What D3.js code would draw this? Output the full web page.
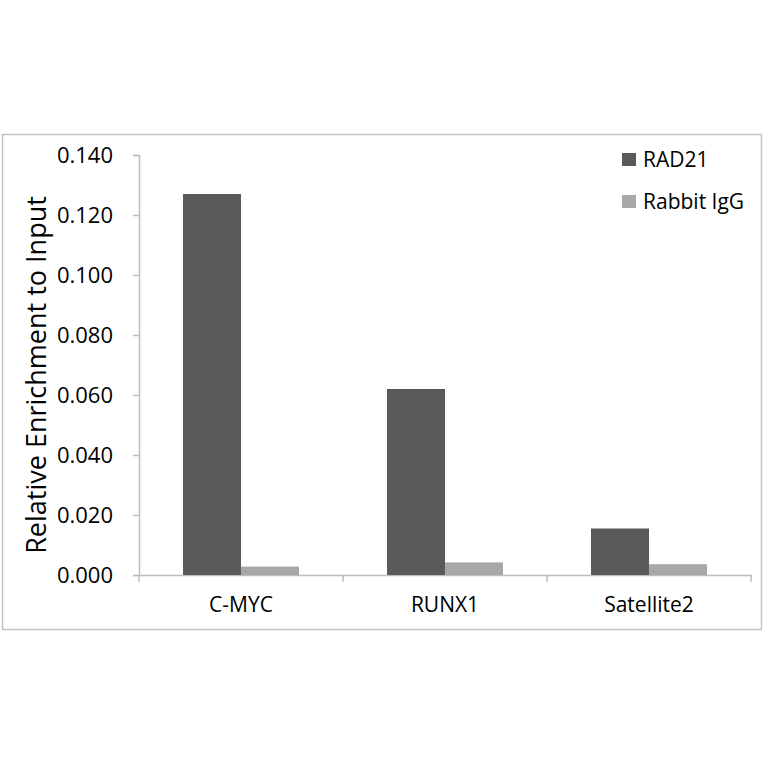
<!DOCTYPE html>
<html>
<head>
<meta charset="utf-8">
<script src="https://cdn.jsdelivr.net/npm/d3@7"></script>
<style>
  body { margin: 0; background: #fff; }
  text { font-family: "Open Sans", sans-serif; fill: #000; }
</style>
</head>
<body>
<div id="chart"></div>
<script>
// Chart data
const categories = ["C-MYC", "RUNX1", "Satellite2"];
const seriesNames = ["RAD21", "Rabbit IgG"];
const rad21 = [0.127, 0.062, 0.0155];
const rabbitIgG = [0.0028, 0.0042, 0.0036];
const yTicks = [0, 0.02, 0.04, 0.06, 0.08, 0.1, 0.12, 0.14];
const colors = ["#5a5a5a", "#a8a8a8"];

const W = 764, H = 764;
let svg = d3.select("#chart")
    .append("svg")
    .attr("width", W)
    .attr("height", H);

// Outer chart border
svg.append("rect")
    .attr("x", 2.5).attr("y", 134.5)
    .attr("width", 759).attr("height", 495)
    .attr("fill", "none")
    .attr("stroke", "#c4c4c4")
    .attr("stroke-width", 1.5);

let margin = { left: 139, right: 13, top: 155, bottom: 189 };
let width = W - margin.left - margin.right;
let height = H - margin.top - margin.bottom;

let g = svg.append("g")
    .attr("transform", `translate(${margin.left}, ${margin.top})`);

/* Scales */
let x0 = d3.scaleBand()
    .domain(categories)
    .range([0, width])
    .paddingInner(0)
    .paddingOuter(0);

let x1 = d3.scaleBand()
    .domain(seriesNames)
    .range([44, x0.bandwidth() - 44])
    .padding(0);

let y = d3.scaleLinear()
    .domain([0, 0.14])
    .range([height, 0]);

/* Y axis */
let yAxis = d3.axisLeft(y)
    .tickValues(yTicks)
    .tickSize(6)
    .tickPadding(20)
    .tickFormat(d3.format(".3f"));

let ya = g.append("g").call(yAxis);
ya.select(".domain").attr("stroke", "#bdbdbd").attr("stroke-width", 1.5);
ya.selectAll(".tick line").attr("stroke", "#bdbdbd").attr("stroke-width", 1.5);
ya.selectAll(".tick text")
    .attr("font-size", "22px")
    .attr("font-family", "'Open Sans', sans-serif")
    .attr("fill", "#000");

/* X axis */
let xa = g.append("g")
    .attr("transform", `translate(0, ${height})`)
    .call(d3.axisBottom(x0).tickSize(0).tickPadding(22));
xa.select(".domain").attr("stroke", "#bdbdbd").attr("stroke-width", 1.5);
xa.selectAll(".tick text")
    .attr("font-size", "21px")
    .attr("font-family", "'Open Sans', sans-serif")
    .attr("fill", "#000");

// Category separator ticks
g.append("g")
    .selectAll("line")
    .data(d3.range(categories.length + 1))
    .enter()
    .append("line")
    .attr("x1", i => i * x0.bandwidth())
    .attr("x2", i => i * x0.bandwidth())
    .attr("y1", height)
    .attr("y2", height + 7)
    .attr("stroke", "#bdbdbd")
    .attr("stroke-width", 1.5);

/* Bars */
let rows = categories.map((c, i) => ({ cat: c, values: [rad21[i], rabbitIgG[i]] }));

let groups = g.selectAll(".group")
    .data(rows)
    .enter()
    .append("g")
    .attr("class", "group")
    .attr("transform", d => `translate(${x0(d.cat)}, 0)`);

groups.selectAll("rect")
    .data(d => d.values.map((v, k) => ({ name: seriesNames[k], v: v, k: k })))
    .enter()
    .append("rect")
    .attr("x", d => x1(d.name))
    .attr("y", d => y(d.v))
    .attr("width", x1.bandwidth())
    .attr("height", d => height - y(d.v))
    .attr("fill", d => colors[d.k]);

/* Y axis title */
svg.append("text")
    .attr("transform", `translate(46, ${margin.top + height / 2 + 10}) rotate(-90)`)
    .attr("text-anchor", "middle")
    .attr("font-size", "27px")
    .text("Relative Enrichment to Input");

/* Legend */
let legend = svg.selectAll(".legend")
    .data(seriesNames)
    .enter()
    .append("g")
    .attr("class", "legend")
    .attr("transform", (d, i) => `translate(622, ${153 + i * 42})`);

legend.append("rect")
    .attr("width", 14)
    .attr("height", 13)
    .attr("fill", (d, i) => colors[i]);

legend.append("text")
    .attr("x", 21)
    .attr("y", 14)
    .attr("font-size", "21px")
    .text(d => d);
</script>
</body>
</html>
